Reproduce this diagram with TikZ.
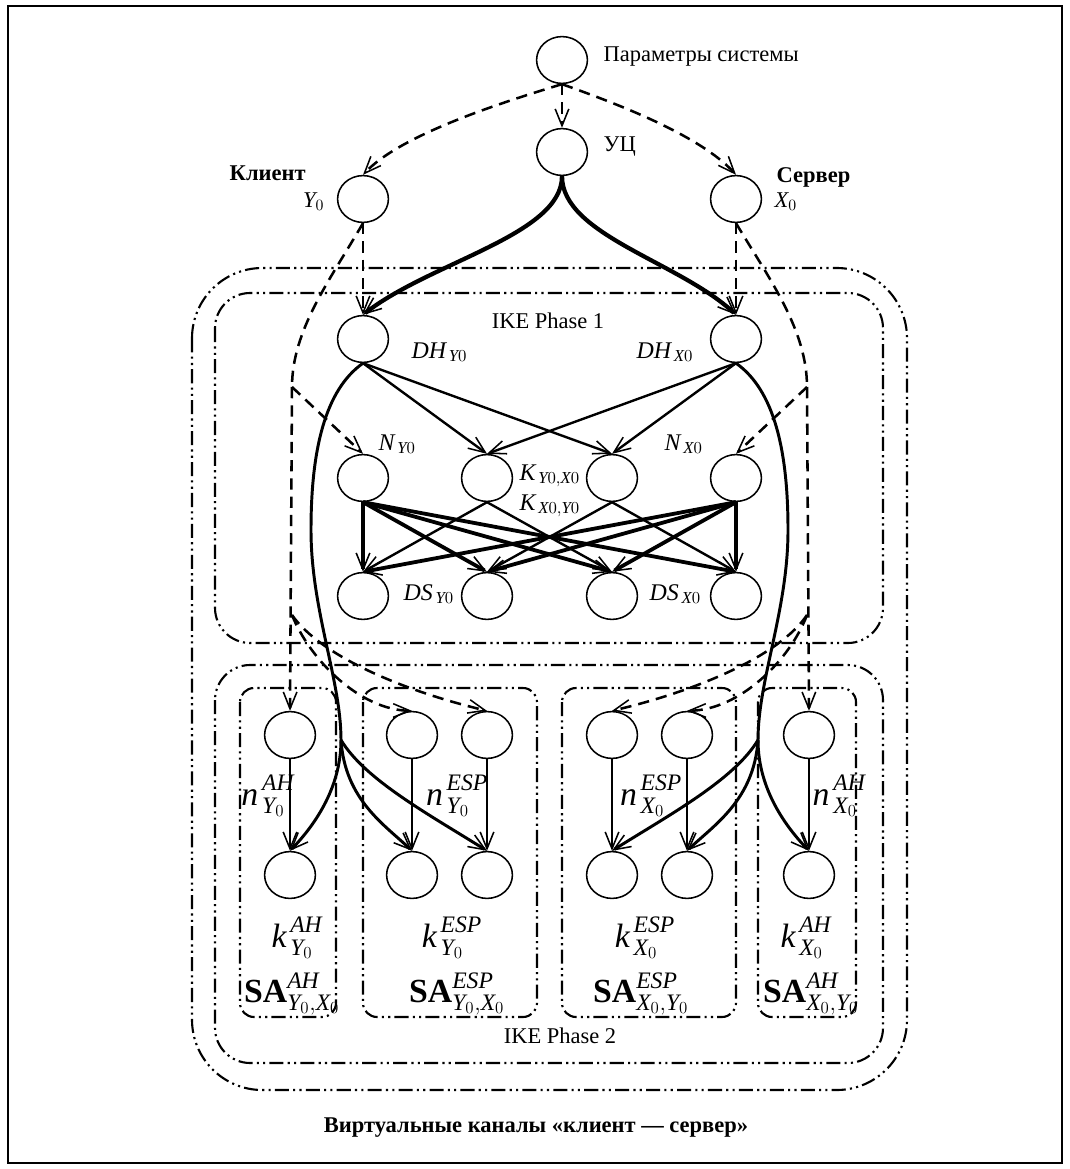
\RequirePackage{fix-cm}
\documentclass[tikz,border=0pt]{standalone}
\usepackage{fontspec}
\setmainfont{Liberation Serif}
\usetikzlibrary{shapes.geometric, arrows.meta, positioning}
\newcommand{\vit}[1]{\mathit{#1}}
\newcommand{\vb}[1]{{\mathit{#1}\mkern2mu}}
\newcommand{\vn}{{\mathit{n}\vphantom{k}\mkern2mu}}

\begin{document}
\begin{tikzpicture}[
  x=0.025cm, y=-0.025cm,
  font=\fontsize{16}{19}\selectfont,
  every node/.style={inner sep=1pt},
  vert/.style={ellipse, draw, line width=1.1pt, minimum width=1.27cm,
    minimum height=1.17cm, inner sep=0pt},
  tip/.style={-{Straight Barb[length=4.2mm, width=3.4mm, line width=1.1pt]}},
  arr/.style={tip, line width=1.7pt},
  bold arr/.style={tip, line width=2.7pt},
  dsh/.style={tip, line width=1.8pt, dash pattern=on 8pt off 5pt},
  trunk/.style={line width=2.1pt},
  zone/.style={line width=1.5pt,
    dash pattern=on 10pt off 3pt on 1.5pt off 3pt on 1.5pt off 3pt},
  mid/.style={font=\fontsize{17}{20}\selectfont},
  big/.style={font=\fontsize{24}{28}\selectfont}
]
  \useasboundingbox (0,0) rectangle (1070,1169);
  \draw[line width=1.4pt] (8,6) rectangle (1062,1163);

  % zones
  \draw[zone, rounded corners=50pt] (192,268) rectangle (907,1090);
  \draw[zone, rounded corners=25pt] (215,293) rectangle (883,643);
  \draw[zone, rounded corners=25pt] (215,665) rectangle (883,1063);
  \foreach \a/\b in {240/336, 363/537, 562/736, 758/856}
    \draw[zone, rounded corners=10pt] (\a,688) rectangle (\b,1017);

  % vertices
  \node[vert] (par) at (562,60)  {};
  \node[vert] (uc)  at (562,152) {};
  \node[vert] (cl)  at (363,199) {};
  \node[vert] (sv)  at (736,199) {};
  \node[vert] (dhY) at (363,339) {};
  \node[vert] (dhX) at (736,339) {};
  \foreach \n/\x in {nY/363, kA/487, kB/612, nX/736}
    \node[vert] (\n) at (\x,478) {};
  \foreach \n/\x in {dsA/363, dsB/487, dsC/612, dsD/736}
    \node[vert] (\n) at (\x,596) {};
  \foreach \n/\x in {1/290, 2/412, 3/487, 4/612, 5/687, 6/809} {
    \node[vert] (t\n) at (\x,735) {};
    \node[vert] (b\n) at (\x,875) {};
  }

  % labels
  \node[anchor=base west] (tpar) at (602,62) {Параметры системы};
  \node[anchor=base west] (tuc)  at (602,152) {УЦ};
  \node[anchor=base west] (tcl)  at (228,181) {\textbf{Клиент}};
  \node[anchor=base east] (tsv)  at (852,182) {\textbf{Сервер}};
  \node[anchor=base east] (tY)   at (326,207) {$\vit{Y}_0$};
  \node[anchor=base west] (tX)   at (773,207) {$\vit{X}_0$};
  \node[anchor=base] (ph1) at (548,328) {IKE Phase 1};
  \node[mid, anchor=base west] (tdhY) at (410,358) {$\vb{DH}_{\vit{Y}0}$};
  \node[mid, anchor=base west] (tdhX) at (635,358) {$\vb{DH}_{\vit{X}0}$};
  \node[mid, anchor=base west] (tnY)  at (377,450) {$\vb{N}_{\vit{Y}0}$};
  \node[mid, anchor=base west] (tnX)  at (663,450) {$\vb{N}_{\vit{X}0}$};
  \node[mid, anchor=base west] (tkA)  at (518,480) {$\vb{K}_{\vit{Y}0,\vit{X}0}$};
  \node[mid, anchor=base west] (tkB)  at (518,510) {$\vb{K}_{\vit{X}0,\vit{Y}0}$};
  \node[mid, anchor=base west] (tdsY) at (402,600) {$\vb{DS}_{\vit{Y}0}$};
  \node[mid, anchor=base west] (tdsX) at (648,600) {$\vb{DS}_{\vit{X}0}$};

  \node[big, anchor=base east] (n1) at (296,805) {$\vn^{\vit{AH}}_{\vit{Y}_0}$};
  \node[big, anchor=base] (n2) at (457,805) {$\vn^{\vit{ESP}}_{\vit{Y}_0}$};
  \node[big, anchor=base] (n3) at (651,805) {$\vn^{\vit{ESP}}_{\vit{X}_0}$};
  \node[big, anchor=base west] (n4) at (811,805) {$\vn^{\vit{AH}}_{\vit{X}_0}$};
  \node[big, anchor=base] (k1) at (297,947) {$\vb{k}^{\vit{AH}}_{\vit{Y}_0}$};
  \node[big, anchor=base] (k2) at (452,947) {$\vb{k}^{\vit{ESP}}_{\vit{Y}_0}$};
  \node[big, anchor=base] (k3) at (645,947) {$\vb{k}^{\vit{ESP}}_{\vit{X}_0}$};
  \node[big, anchor=base] (k4) at (806,947) {$\vb{k}^{\vit{AH}}_{\vit{X}_0}$};
  \node[big, anchor=base] (s1) at (292,1002) {$\mathbf{SA}^{\vit{AH}}_{\vit{Y}_0,\vit{X}_0}$};
  \node[big, anchor=base] (s2) at (457,1002) {$\mathbf{SA}^{\vit{ESP}}_{\vit{Y}_0,\vit{X}_0}$};
  \node[big, anchor=base] (s3) at (641,1002) {$\mathbf{SA}^{\vit{ESP}}_{\vit{X}_0,\vit{Y}_0}$};
  \node[big, anchor=base] (s4) at (811,1002) {$\mathbf{SA}^{\vit{AH}}_{\vit{X}_0,\vit{Y}_0}$};
  \node[anchor=base] (ph2) at (560,1043) {IKE Phase 2};
  \node[anchor=base] (capt) at (536,1132)
    {\textbf{Виртуальные каналы «клиент — сервер»}};

  % system parameters
  \draw[dsh] (par.south) -- (uc.north);
  \draw[dsh] (par.south) .. controls (500,103) and (400,135) .. (cl.north);
  \draw[dsh] (par.south) .. controls (615,103) and (700,135) .. (sv.north);
  % certificate authority
  \draw[bold arr, line width=3pt] (uc.south) .. controls (562,235) and (430,262) .. (dhY.north);
  \draw[bold arr, line width=3pt] (uc.south) .. controls (562,235) and (680,262) .. (dhX.north);

  % client and server nonces
  \coordinate (aY) at (292,387);
  \coordinate (bY) at (292,615);
  \coordinate (aX) at (807,387);
  \coordinate (bX) at (807,615);
  \draw[dsh] (cl.south) -- (dhY.north);
  \draw[dsh, -] (cl.south) .. controls (330,280) and (292,330) .. (aY);
  \draw[dsh] (aY) -- (nY.north);
  \draw[dsh] (aY) -- (t1.north);
  \draw[dsh] (bY) .. controls (310,660) and (360,710) .. (t2.north);
  \draw[dsh] (bY) .. controls (320,655) and (400,690) .. (t3.north);
  \draw[dsh] (sv.south) -- (dhX.north);
  \draw[dsh, -] (sv.south) .. controls (770,280) and (807,330) .. (aX);
  \draw[dsh] (aX) -- (nX.north);
  \draw[dsh] (aX) -- (t6.north);
  \draw[dsh] (bX) .. controls (790,660) and (740,710) .. (t5.north);
  \draw[dsh] (bX) .. controls (780,655) and (700,690) .. (t4.north);

  % phase 1
  \foreach \s in {dhY, dhX}
    \foreach \t in {kA, kB}
      \draw[arr] (\s.south) -- (\t.north);
  \foreach \t in {dsA, dsB, dsC, dsD} {
    \draw[bold arr] (nY.south) -- (\t.north);
    \draw[bold arr] (nX.south) -- (\t.north);
  }
  \draw[arr] (kA.south) -- (dsA.north);
  \draw[arr] (kA.south) -- (dsC.north);
  \draw[arr] (kB.south) -- (dsB.north);
  \draw[arr] (kB.south) -- (dsD.north);

  % phase 2
  \coordinate (cY) at (341,740);
  \coordinate (cX) at (758,740);
  \draw[trunk] (dhY.south) .. controls (325,390) and (311,450) .. (311,530)
    .. controls (311,610) and (341,680) .. (cY);
  \draw[trunk] (dhX.south) .. controls (774,390) and (788,450) .. (788,530)
    .. controls (788,610) and (758,680) .. (cX);
  \draw[trunk, tip] (cY) .. controls (341,790) and (312,828) .. (b1.north);
  \draw[trunk, tip] (cY) .. controls (345,800) and (385,825) .. (b2.north);
  \draw[trunk, tip] (cY) .. controls (365,780) and (430,815) .. (b3.north);
  \draw[trunk, tip] (cX) .. controls (758,790) and (787,828) .. (b6.north);
  \draw[trunk, tip] (cX) .. controls (754,800) and (714,825) .. (b5.north);
  \draw[trunk, tip] (cX) .. controls (734,780) and (669,815) .. (b4.north);
  \foreach \i in {1,...,6}
    \draw[arr] (t\i.south) -- (b\i.north);
\end{tikzpicture}
\end{document}
